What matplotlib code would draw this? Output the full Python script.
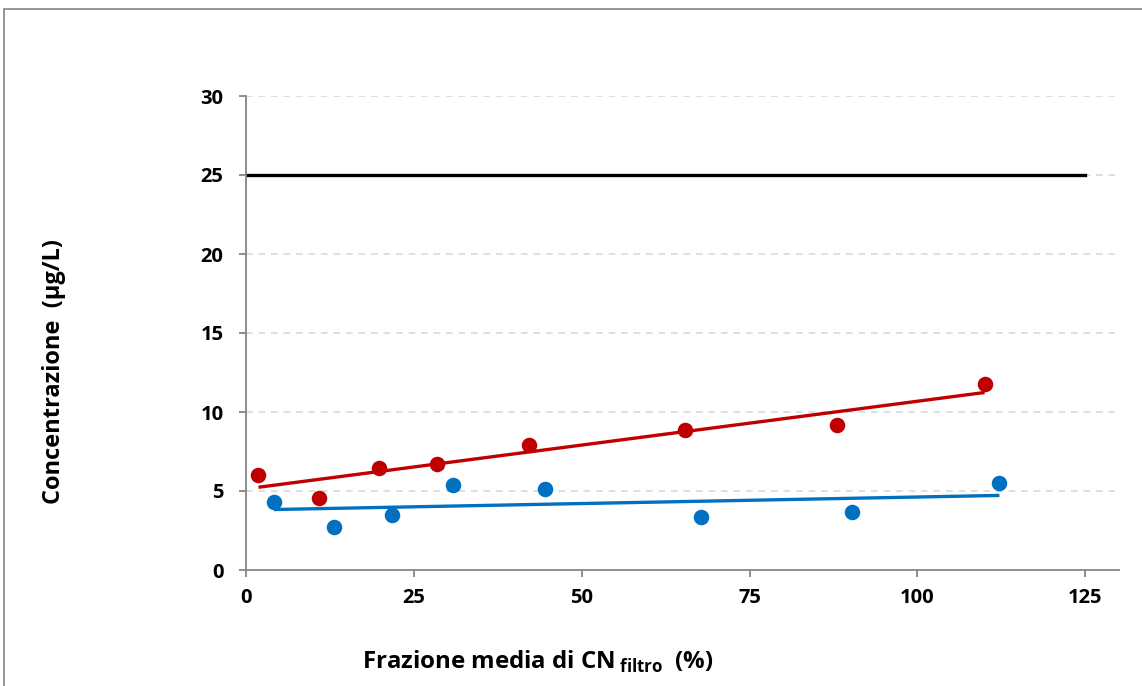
import numpy as np
import matplotlib.pyplot as plt
from matplotlib.patches import Rectangle

# data
red_x = [1.9, 10.9, 19.8, 28.5, 42.2, 65.4, 88.0, 110.0]
red_y = [6.0, 4.58, 6.44, 6.69, 7.9, 8.86, 9.18, 11.75]
blue_x = [4.2, 13.1, 21.8, 30.8, 44.6, 67.8, 90.2, 112.2]
blue_y = [4.32, 2.70, 3.48, 5.38, 5.13, 3.35, 3.67, 5.49]
limit_x = [0, 125]
limit_y = [25, 25]
x_ticks = [0, 25, 50, 75, 100, 125]
y_ticks = [0, 5, 10, 15, 20, 25, 30]

RED = '#C00000'
BLUE = '#0070C0'
GRID = '#D9D9D9'
AXIS = '#868686'

FONT = 'Open Sans'
plt.rcParams['font.family'] = [FONT, 'DejaVu Sans']
plt.rcParams['font.weight'] = 'bold'
plt.rcParams['mathtext.fontset'] = 'custom'
plt.rcParams['mathtext.rm'] = FONT + ':bold'
plt.rcParams['mathtext.bf'] = FONT + ':bold'

fig = plt.figure(figsize=(11.42, 6.86), dpi=100)
ax = fig.add_axes([245.7 / 1142, 1 - 570 / 686, (1119 - 245.7) / 1142, (570 - 96) / 686])

# outer chart frame
fig.patches.append(Rectangle((4 / 1142, -0.1), 1.2, 1 - 8.5 / 686 + 0.1,
                             transform=fig.transFigure, fill=False,
                             edgecolor='#8C8C8C', lw=1.3))

for y in y_ticks[1:]:
    ax.axhline(y, color=GRID, lw=1.2, ls=(0, (4, 3.5)), zorder=0, xmax=(1115 - 245.7) / (1119 - 245.7))

ax.plot(limit_x, limit_y, color='black', lw=2.4, zorder=2)

for xs, ys, c in [(red_x, red_y, RED), (blue_x, blue_y, BLUE)]:
    k, b = np.polyfit(xs, ys, 1)
    xx = np.array([min(xs), max(xs)])
    ax.plot(xx, k * xx + b, color=c, lw=2.4, zorder=3, solid_capstyle='butt')
    ax.scatter(xs, ys, s=125, color=c, zorder=4, linewidths=0)

ax.set_xlim(0, 130)
ax.set_ylim(0, 30)
ax.set_xticks(x_ticks)
ax.set_yticks(y_ticks)
for s in ['top', 'right']:
    ax.spines[s].set_visible(False)
for s in ['left', 'bottom']:
    ax.spines[s].set_color(AXIS)
    ax.spines[s].set_linewidth(1.3)
ax.tick_params(colors=AXIS, width=1.3, length=5, labelcolor='black', labelsize=14.5)
ax.tick_params(axis='y', pad=11)
ax.tick_params(axis='x', pad=8)
for lab in ax.get_xticklabels() + ax.get_yticklabels():
    lab.set_fontweight('bold')

fig.text(538 / 1142, 1 - 662 / 686, r'Frazione media di CN$\,_{\mathrm{filtro}}$  (%)',
         fontsize=17.3, fontweight='bold', ha='center', va='center')
fig.text(54 / 1142, 1 - 372 / 686, 'Concentrazione  (µg/L)', fontsize=17,
         fontweight='bold', ha='center', va='center', rotation=90)

fig.savefig('out.png', dpi=100)
